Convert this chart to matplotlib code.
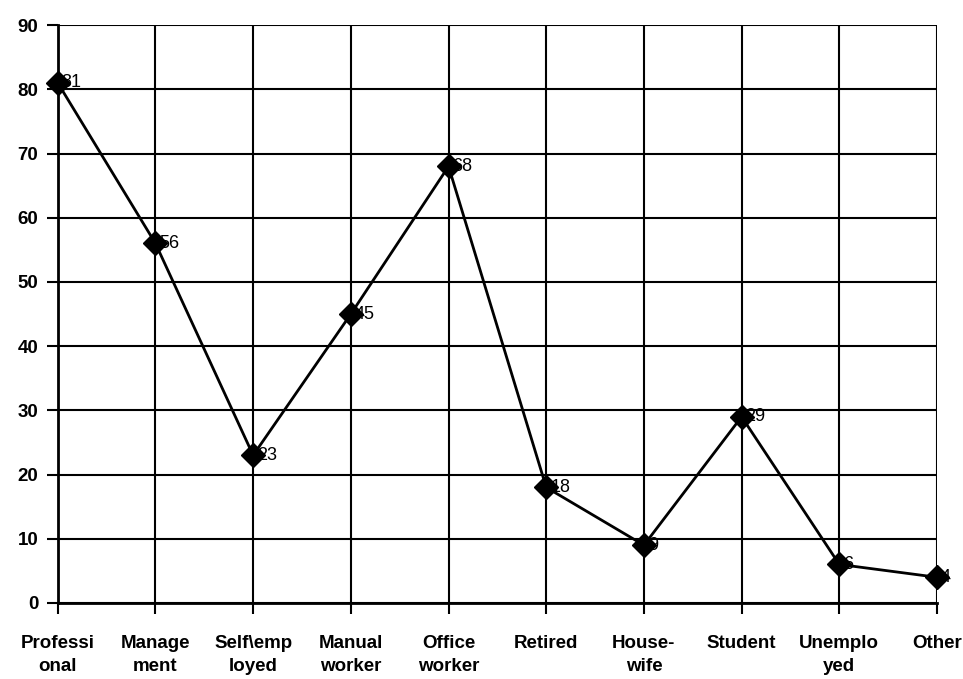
import matplotlib.pyplot as plt
import numpy as np

categories = ['Professi\nonal', 'Manage\nment', 'Self\\emp\nloyed', 'Manual\nworker',
              'Office\nworker', 'Retired', 'House-\nwife', 'Student', 'Unemplo\nyed', 'Other']
values = [81, 56, 23, 45, 68, 18, 9, 29, 6, 4]

plt.rcParams['font.family'] = ['Liberation Sans', 'DejaVu Sans']

fig = plt.figure(figsize=(9.63, 6.79), dpi=100)
ax = fig.add_axes([0.060, 0.112, 0.913, 0.851])

x = np.arange(len(categories))
ax.plot(x, values, color='black', linewidth=2, marker='D', markersize=12,
        markerfacecolor='black', markeredgecolor='black', clip_on=False, zorder=3)

# value labels just right of each marker
for xi, v in zip(x, values):
    ax.text(xi + 0.04, v, str(v), fontsize=13, va='center', ha='left', zorder=4)

ax.set_xlim(0, 9)
ax.set_ylim(0, 90)
ax.set_yticks(range(0, 91, 10))
ax.set_xticks(x)
ax.set_xticklabels(categories, fontsize=13.5, fontweight='bold', linespacing=1.5)
for lbl in ax.get_yticklabels():
    lbl.set_fontsize(13.5)
    lbl.set_fontweight('bold')

ax.grid(True, color='black', linewidth=1.5)
for s in ax.spines.values():
    s.set_visible(False)
ax.spines['bottom'].set_visible(True)
ax.spines['bottom'].set_linewidth(2)
ax.spines['left'].set_visible(True)
ax.spines['left'].set_linewidth(2)
ax.tick_params(axis='both', direction='out', length=8, width=1.5, pad=6)
ax.tick_params(axis='x', pad=15)

fig.savefig('out.png', dpi=100)
